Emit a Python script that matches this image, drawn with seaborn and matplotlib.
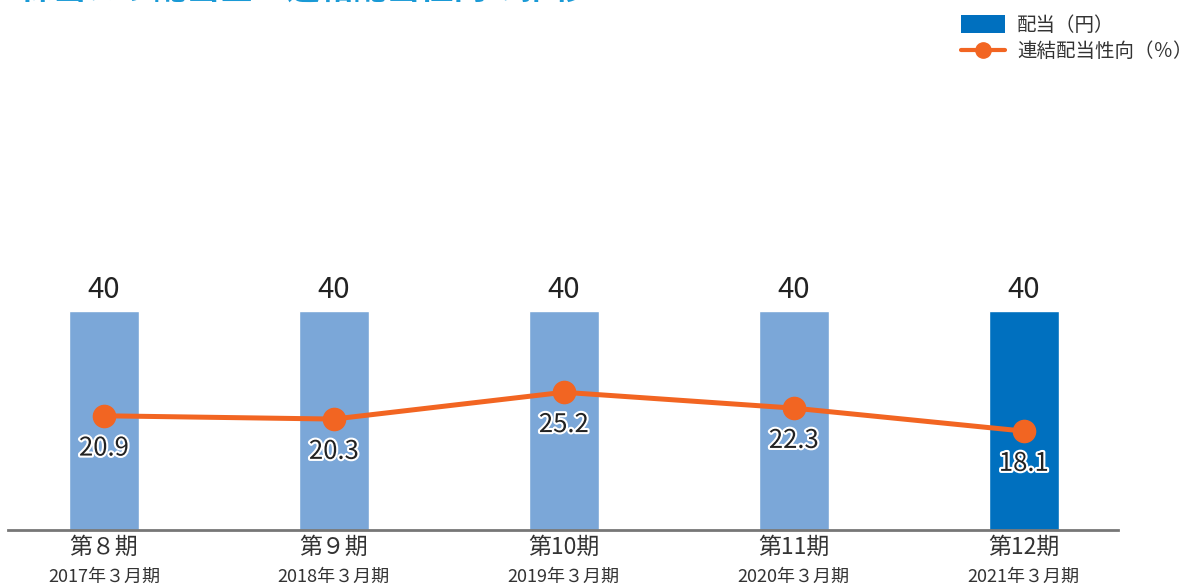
import matplotlib
matplotlib.use("Agg")
import matplotlib.pyplot as plt
import matplotlib.patheffects as pe
import matplotlib.transforms as mtransforms
from matplotlib.patches import Patch
from matplotlib.lines import Line2D
import pandas as pd
import seaborn as sns

periods = ["第８期", "第９期", "第10期", "第11期", "第12期"]
fiscal_years = ["2017年３月期", "2018年３月期", "2019年３月期", "2020年３月期", "2021年３月期"]
dividend = [40, 40, 40, 40, 40]
payout_ratio = [20.9, 20.3, 25.2, 22.3, 18.1]
title = "1株当たり配当金・連結配当性向の推移"

LIGHT_BLUE = "#7ba7d8"
DARK_BLUE = "#0070bf"
ORANGE = "#f26522"
TEXT = "#333333"

sns.set_theme(style="white")
plt.rcParams["font.family"] = ["Noto Sans CJK JP", "DejaVu Sans"]

df = pd.DataFrame({"period": periods, "dividend": dividend, "ratio": payout_ratio})

fig = plt.figure(figsize=(11.91, 5.88), dpi=100)
ax = fig.add_axes([8 / 1191, 58 / 588, 1110 / 1191, 470 / 588])

colors = [LIGHT_BLUE] * (len(periods) - 1) + [DARK_BLUE]
sns.barplot(data=df, x="period", y="dividend", hue="period", palette=colors,
            width=0.305, legend=False, saturation=1, ax=ax)

ax.plot(range(len(periods)), df["ratio"], color=ORANGE, lw=3.6,
        marker="o", markersize=16, zorder=5)

for i, v in enumerate(dividend):
    ax.text(i, v + 1.2, f"{v}", ha="center", va="bottom", fontsize=21, color="#222222")

for i, v in enumerate(payout_ratio):
    ax.text(i, v - 6.0, f"{v}", ha="center", va="center", fontsize=18.5, color="#222222",
            zorder=6, path_effects=[pe.withStroke(linewidth=3, foreground="white")])

ax.set_xlim(-0.417, 4.41)
ax.set_ylim(0, 86)
ax.set_yticks([])
ax.set_xlabel("")
ax.set_ylabel("")
for s in ["top", "right", "left"]:
    ax.spines[s].set_visible(False)
ax.spines["bottom"].set_color("#777777")
ax.spines["bottom"].set_linewidth(2)
ax.tick_params(axis="x", length=0, pad=4, labelsize=16.5, labelcolor=TEXT)

trans = mtransforms.blended_transform_factory(ax.transData, ax.transAxes)
for i, fy in enumerate(fiscal_years):
    ax.text(i, -47 / 470, fy, transform=trans, ha="center", va="center",
            fontsize=13, color=TEXT)

handles = [Patch(facecolor=DARK_BLUE, edgecolor="none"),
           Line2D([0], [0], color=ORANGE, lw=3, marker="o", markersize=11)]
fig.legend(handles, ["配当（円）", "連結配当性向（％）"], loc="upper left",
           bbox_to_anchor=(946 / 1191, 1.0), frameon=False, fontsize=14,
           labelcolor=TEXT, handlelength=2.3, handleheight=1.0,
           handletextpad=0.6, labelspacing=0.3, borderaxespad=0.35)

# title sits mostly above the canvas, as in the source image
fig.text(0.0, 1 + 1.5 / 588, title, ha="left", va="baseline", fontsize=24,
         color="#1a9ad6", fontweight="bold")

fig.savefig("out.png", dpi=100)
